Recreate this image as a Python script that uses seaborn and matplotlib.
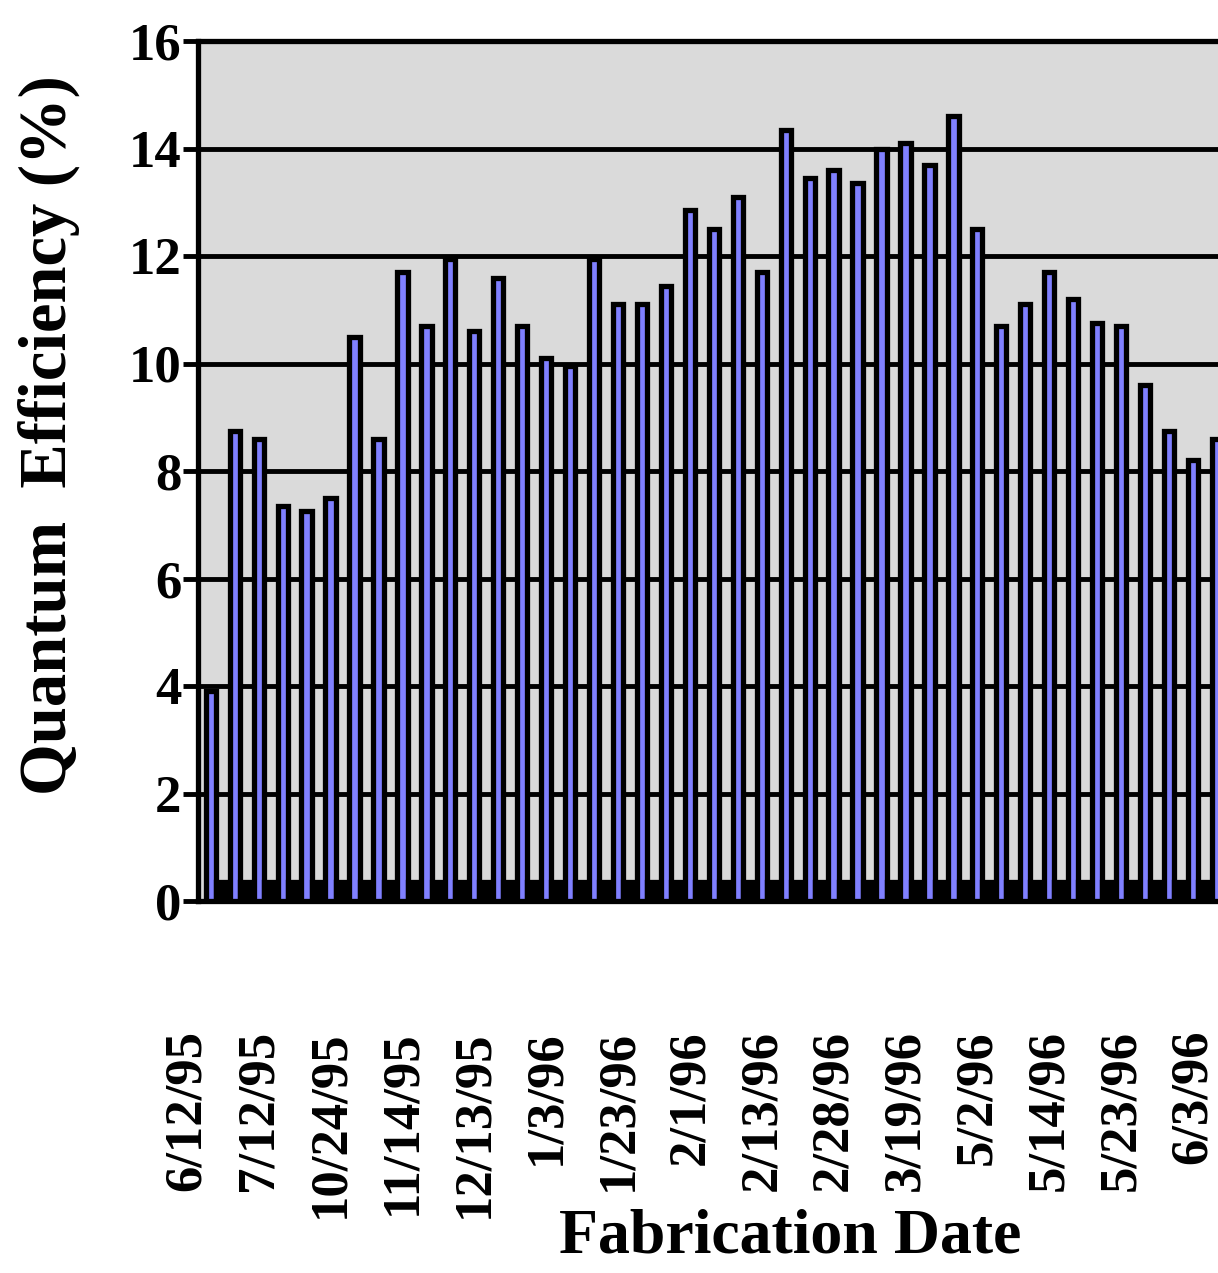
import numpy as np
import pandas as pd
import matplotlib
matplotlib.use("Agg")
import matplotlib.pyplot as plt
import seaborn as sns
from matplotlib.transforms import blended_transform_factory

# ---- data ----
qe_values = [3.9, 8.75, 8.6, 7.35, 7.25, 7.5, 10.5, 8.6, 11.7, 10.7,
             11.95, 10.6, 11.6, 10.7, 10.1, 9.95, 11.95, 11.1, 11.1, 11.45,
             12.85, 12.5, 13.1, 11.7, 14.35, 13.45, 13.6, 13.35, 14.0, 14.1,
             13.7, 14.6, 12.5, 10.7, 11.1, 11.7, 11.2, 10.75, 10.7, 9.6,
             8.75, 8.2, 8.6]
base_values = [0.35, 0.35, 0.35, 0.35, 0.35, 0.35, 0.35, 0.35, 0.35, 0.35,
               0.35, 0.35, 0.35, 0.35, 0.35, 0.35, 0.35, 0.35, 0.35, 0.35,
               0.35, 0.35, 0.35, 0.35, 0.35, 0.35, 0.35, 0.35, 0.35, 0.35,
               0.35, 0.35, 0.35, 0.35, 0.35, 0.35, 0.35, 0.35, 0.35, 0.35,
               0.35, 0.35, 0.35]
date_labels = ["6/12/95", "7/12/95", "10/24/95", "11/14/95", "12/13/95",
               "1/3/96", "1/23/96", "2/1/96", "2/13/96", "2/28/96",
               "3/19/96", "5/2/96", "5/14/96", "5/23/96", "6/3/96"]
label_slots = [-1, 2, 5, 8, 11, 14, 17, 20, 23, 26, 29, 32, 35, 38, 41]
y_ticks = [0, 2, 4, 6, 8, 10, 12, 14, 16]

n = len(qe_values)
df = pd.DataFrame({
    "sample": list(range(n)) * 2,
    "series": ["QE"] * n + ["base"] * n,
    "value": qe_values + base_values,
})

sns.set_theme(style="white")
plt.rcParams["font.family"] = ["Liberation Serif", "DejaVu Serif"]
plt.rcParams["text.color"] = "black"
plt.rcParams["axes.labelcolor"] = "black"
plt.rcParams["xtick.color"] = "black"
plt.rcParams["ytick.color"] = "black"

fig = plt.figure(figsize=(12.18, 12.73), dpi=100)
ax = fig.add_axes([198 / 1218, (1273 - 901) / 1273, 1030 / 1218, 860 / 1273])
ax.set_facecolor("#dadada")

sns.barplot(data=df, x="sample", y="value", hue="series",
            hue_order=["QE", "base"],
            palette={"QE": "#8080ff", "base": "black"},
            saturation=1, width=0.86, edgecolor="black", linewidth=3.8,
            legend=False, ax=ax, zorder=3)

ax.set_ylim(0, 16)
ax.set_xlim(-0.75, n - 0.75)
ax.set_yticks(y_ticks)
ax.set_yticklabels([str(v) for v in y_ticks], fontsize=38, fontweight="bold",
                   color="black")
ax.yaxis.grid(True, color="black", linewidth=3.5)
ax.xaxis.grid(False)
ax.set_axisbelow(True)
ax.tick_params(axis="y", length=11, width=3.5, color="black", pad=1,
               direction="out", left=True, labelcolor="black")
ax.set_xticks([])

for side in ["left", "bottom", "top"]:
    ax.spines[side].set_visible(True)
    ax.spines[side].set_color("black")
    ax.spines[side].set_linewidth(3.8)
ax.spines["right"].set_visible(False)

# date labels under every third sample
trans = blended_transform_factory(ax.transData, ax.transAxes)
for slot, lab in zip(label_slots, date_labels):
    ax.text(slot - 0.21, -0.150, lab, transform=trans, rotation=90,
            ha="center", va="top", fontsize=38, fontweight="bold",
            color="black", clip_on=False)

ax.set_ylabel("Quantum  Efficiency (%)", fontsize=48, fontweight="bold",
              color="black")
ax.yaxis.set_label_coords(-0.115, 0.542)
ax.set_xlabel("Fabrication Date", fontsize=46, fontweight="bold",
              color="black")
ax.xaxis.set_label_coords(0.575, -0.357)

fig.savefig("out.png", dpi=100)
